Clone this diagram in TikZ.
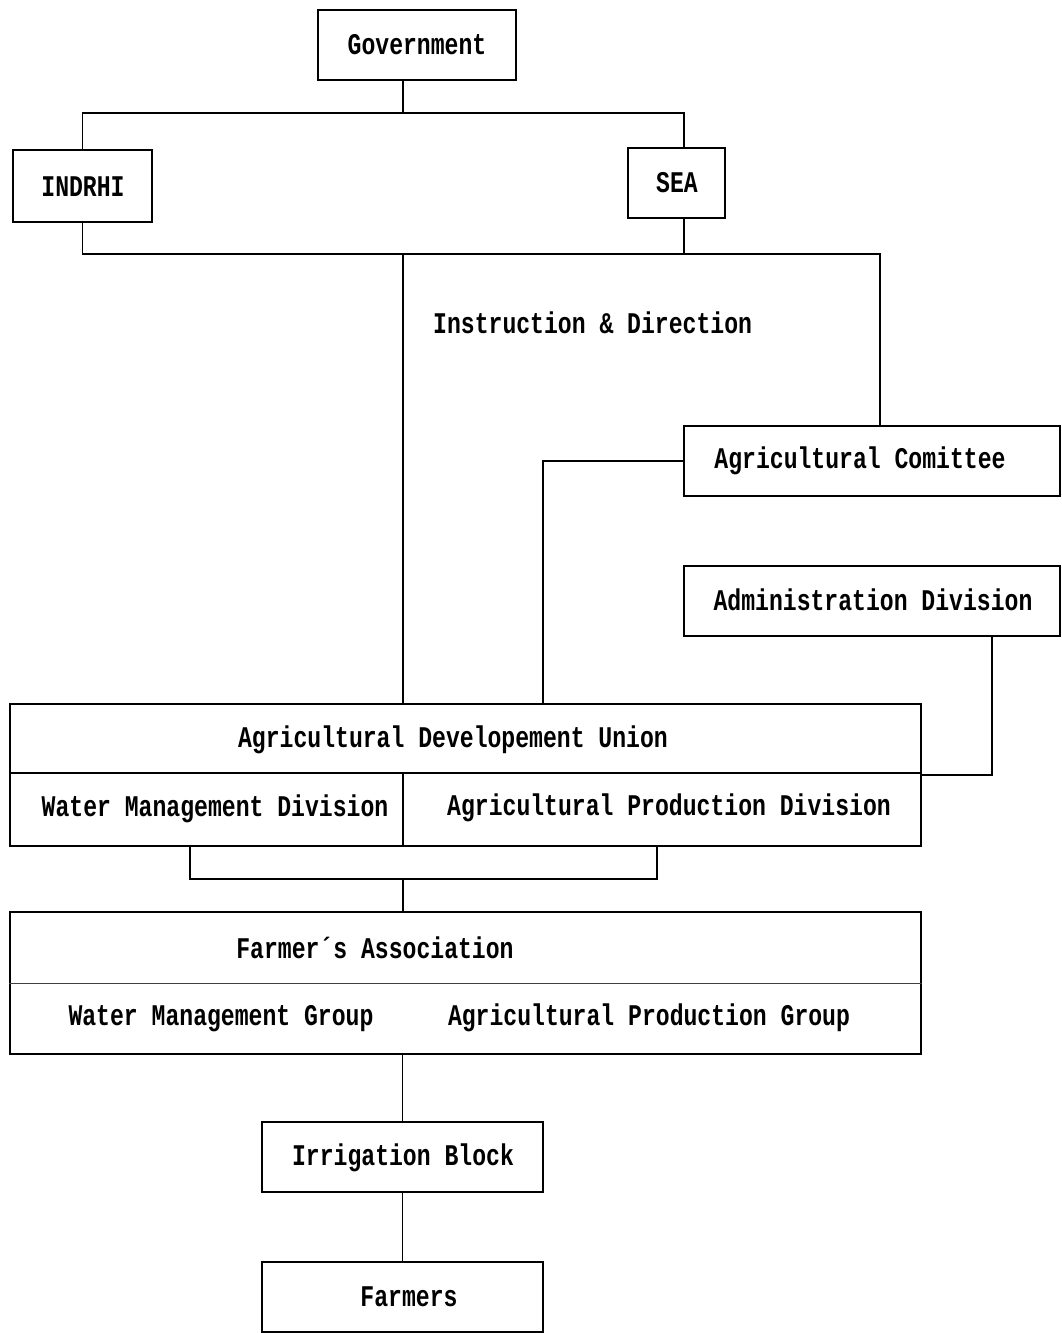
\documentclass[tikz,border=0pt]{standalone}
\usepackage{fontspec}
\setmonofont[FakeStretch=0.77]{Liberation Mono}
\begin{document}
\begin{tikzpicture}[x=1pt,y=-1pt,
  box/.style={draw,line width=1.8pt,rectangle,inner sep=0pt},
  txt/.style={inner sep=0pt,font=\ttfamily\bfseries\fontsize{30}{32}\selectfont},
  conn/.style={line width=1.4pt}]
\useasboundingbox[fill=white] (0,0) rectangle (1062,1333);
% boxes
\node[box,minimum width=198pt,minimum height=70pt] (gov) at (417,45) {};
\node[box,minimum width=139pt,minimum height=72pt] (indrhi) at (82.5,186) {};
\node[box,minimum width=97pt,minimum height=70pt] (sea) at (676.5,183) {};
\node[box,minimum width=376pt,minimum height=70pt] (agcom) at (872,461) {};
\node[box,minimum width=376pt,minimum height=70pt] (admin) at (872,601) {};
\node[box,minimum width=911pt,minimum height=142pt] (adu) at (465.5,775) {};
\node[box,minimum width=911pt,minimum height=142pt] (fa) at (465.5,983) {};
\node[box,minimum width=281pt,minimum height=70pt] (irr) at (402.5,1157) {};
\node[box,minimum width=281pt,minimum height=70pt] (farm) at (402.5,1297) {};
% texts
\node[txt] (tgov) at (417,45) {Government};
\node[txt] (tindrhi) at (83,187) {INDRHI};
\node[txt] (tsea) at (677,183) {SEA};
\node[txt,anchor=west] (tinstr) at (433,323) {Instruction \& Direction};
\node[txt] (tagcom) at (860,461) {Agricultural Comittee};
\node[txt] (tadmin) at (873,600) {Administration Division};
\node[txt] (tadu) at (453,740) {Agricultural Developement Union};
\node[txt] (twmd) at (215,809) {Water Management Division};
\node[txt] (tapd) at (669,808) {Agricultural Production Division};
\node[txt] (tfa) at (375,948) {Farmer´s Association};
\node[txt] (twmg) at (221,1019) {Water Management Group};
\node[txt] (tapg) at (649,1018) {Agricultural Production Group};
\node[txt] (tirr) at (403,1158) {Irrigation Block};
\node[txt] (tfarm) at (409,1297) {Farmers};
% internal dividers
\coordinate (d1) at (0,773);
\coordinate (d2) at (0,983);
\draw[line width=1.2pt] (adu.west |- d1) -- (adu.east |- d1);
\draw[line width=1.2pt] (403,773) -- (403,846);
\draw[line width=1pt,black!75] (fa.west |- d2) -- (fa.east |- d2);
% connectors
\coordinate (j1) at (403,113);
\coordinate (j2) at (403,254);
\coordinate (j3) at (403,879);
\draw[conn] ([xshift=-14pt]gov.south) -- (j1);
\draw[conn] (indrhi.north) -- (indrhi.north |- j1) -- ([xshift=7.5pt]sea.north |- j1) -- ([xshift=7.5pt]sea.north);
\draw[conn] (indrhi.south) -- (indrhi.south |- j2) -- ([xshift=8pt]agcom.north |- j2) -- ([xshift=8pt]agcom.north);
\draw[conn] ([xshift=7.5pt]sea.south) -- ([xshift=7.5pt]sea.south |- j2);
\draw[conn] (j2) -- (j2 |- adu.north);
\draw[conn] (agcom.west) -| ([xshift=77.5pt]adu.north);
\draw[conn] ([xshift=120pt]admin.south) |- (adu.east);
\draw[conn] ([xshift=-275.5pt]adu.south) |- (j3) -| ([xshift=191.5pt]adu.south);
\draw[conn] (j3) -- (j3 |- fa.north);
\draw[conn] (irr.north |- fa.south) -- (irr.north);
\draw[conn] (irr.south) -- (farm.north);
\end{tikzpicture}
\end{document}
